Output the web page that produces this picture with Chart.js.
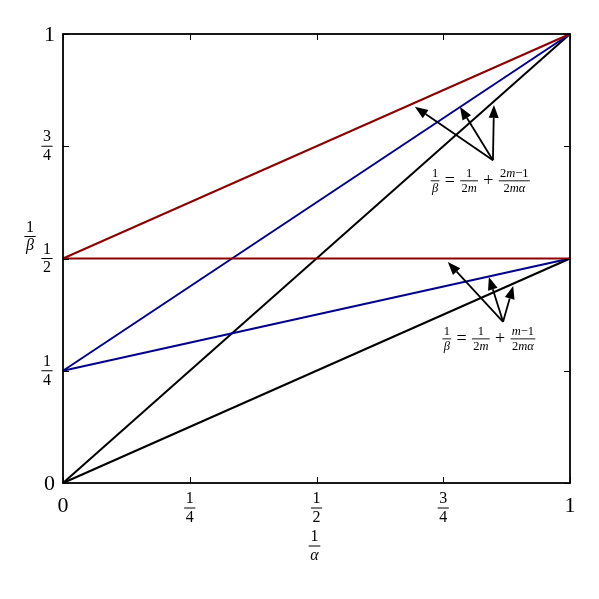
<!DOCTYPE html>
<html>
<head>
<meta charset="utf-8">
<script src="https://cdn.jsdelivr.net/npm/chart.js@4.4.1/dist/chart.umd.min.js"></script>
<style>
html,body{margin:0;padding:0;background:#fff;}
#wrap{width:599px;height:599px;}
</style>
</head>
<body>
<div id="wrap"><canvas id="c" width="599" height="599"></canvas></div>
<script>
// ---- data ----
const alphaInv = [0, 1];                 // x endpoints (1/alpha)
const blackDiag = [0, 1];                // 1/beta = 1/alpha
const blackLow = [0, 0.5];               // 1/beta = 1/(2alpha)
const redUpper = [0.5, 1];
const redFlat = [0.5, 0.5];
const blueUpper = [0.25, 1];
const blueLower = [0.25, 0.5];

const tickValues = [0, 0.25, 0.5, 0.75, 1];
const tickNum = ['0', '1', '1', '3', '1'];
const tickDen = [null, '4', '2', '4', null];

// annotations: arrow origin (text side) and arrow tips, in data units
const upperOrigin = [0.848, 0.719];
const upperTips = [[0.694, 0.838], [0.783, 0.838], [0.850, 0.842]];
const upperTextPos = [0.823, 0.673];
const upperText = [['1', 'β'], '=', ['1', '2m'], '+', ['2m−1', '2mα']];

const lowerOrigin = [0.868, 0.359];
const lowerTips = [[0.759, 0.492], [0.840, 0.459], [0.888, 0.439]];
const lowerTextPos = [0.840, 0.321];
const lowerText = [['1', 'β'], '=', ['1', '2m'], '+', ['m−1', '2mα']];

const FONT = '"Liberation Serif", "DejaVu Serif", serif';

function seg(xs, ys) { return xs.map((x, i) => ({ x: x, y: ys[i] })); }

function runs(str) {
  const out = [];
  for (const ch of str) {
    const it = /[a-zA-Zα-ω]/.test(ch);
    if (out.length && out[out.length - 1].it === it) out[out.length - 1].t += ch;
    else out.push({ t: ch, it: it });
  }
  return out;
}
function strWidth(ctx, str, size) {
  let w = 0;
  for (const r of runs(str)) {
    ctx.font = (r.it ? 'italic ' : '') + size + 'px ' + FONT;
    w += ctx.measureText(r.t).width;
  }
  return w;
}
function drawStr(ctx, str, x, baseline, size) {
  ctx.textAlign = 'left';
  ctx.textBaseline = 'alphabetic';
  let cx = x;
  for (const r of runs(str)) {
    ctx.font = (r.it ? 'italic ' : '') + size + 'px ' + FONT;
    ctx.fillText(r.t, cx, baseline);
    cx += ctx.measureText(r.t).width;
  }
}
function fracWidth(ctx, num, den, size) {
  return Math.max(strWidth(ctx, num, size), strWidth(ctx, den, size)) + size * 0.25;
}
function drawFrac(ctx, num, den, cx, barY, size, lw) {
  const wn = strWidth(ctx, num, size), wd = strWidth(ctx, den, size);
  const w = Math.max(wn, wd) + size * 0.2;
  ctx.fillStyle = '#000';
  drawStr(ctx, num, cx - wn / 2, barY - size * 0.3, size);
  drawStr(ctx, den, cx - wd / 2, barY + size * 0.86, size);
  ctx.fillRect(cx - w / 2, barY - lw / 2, w, lw);
}
function drawExpr(ctx, parts, cx, barY, fsize, osize) {
  const gap = 4;
  const widths = parts.map(p => Array.isArray(p) ? fracWidth(ctx, p[0], p[1], fsize) : strWidth(ctx, p, osize) + 2);
  const total = widths.reduce((a, b) => a + b, 0) + gap * (parts.length - 1);
  let x = cx - total / 2;
  parts.forEach((p, i) => {
    if (Array.isArray(p)) {
      drawFrac(ctx, p[0], p[1], x + widths[i] / 2, barY, fsize, 0.9);
    } else {
      ctx.fillStyle = '#000';
      drawStr(ctx, p, x + 1, barY + osize * 0.3, osize);
    }
    x += widths[i] + gap;
  });
}
function drawArrow(ctx, x0, y0, x1, y1) {
  const L = 13, H = 5;
  const dx = x1 - x0, dy = y1 - y0, d = Math.hypot(dx, dy);
  const ux = dx / d, uy = dy / d;
  const bx = x1 - ux * L, by = y1 - uy * L;
  ctx.strokeStyle = '#000';
  ctx.lineWidth = 1.8;
  ctx.beginPath(); ctx.moveTo(x0, y0); ctx.lineTo(bx, by); ctx.stroke();
  ctx.fillStyle = '#000';
  ctx.beginPath();
  ctx.moveTo(x1, y1);
  ctx.lineTo(bx - uy * H, by + ux * H);
  ctx.lineTo(bx + uy * H, by - ux * H);
  ctx.closePath(); ctx.fill();
}

const decor = {
  id: 'decor',
  afterDatasetsDraw(chart) {
    const ctx = chart.ctx, a = chart.chartArea;
    const xs = chart.scales.x, ys = chart.scales.y;
    ctx.save();
    // ticks (inward, all four sides)
    ctx.strokeStyle = '#000'; ctx.lineWidth = 1;
    tickValues.forEach(v => {
      const px = Math.round(xs.getPixelForValue(v)) + 0.5;
      const py = Math.round(ys.getPixelForValue(v)) + 0.5;
      ctx.beginPath();
      ctx.moveTo(px, a.bottom); ctx.lineTo(px, a.bottom - 6);
      ctx.moveTo(px, a.top); ctx.lineTo(px, a.top + 6);
      ctx.moveTo(a.left, py); ctx.lineTo(a.left + 6, py);
      ctx.moveTo(a.right, py); ctx.lineTo(a.right - 6, py);
      ctx.stroke();
    });
    // frame
    ctx.lineWidth = 1.8;
    ctx.strokeRect(a.left, a.top, a.right - a.left, a.bottom - a.top);

    // tick labels
    ctx.fillStyle = '#000';
    tickValues.forEach((v, i) => {
      const px = xs.getPixelForValue(v), py = ys.getPixelForValue(v);
      if (tickDen[i] === null) {
        ctx.font = '22px ' + FONT;
        ctx.textAlign = 'center'; ctx.textBaseline = 'alphabetic';
        ctx.fillText(tickNum[i], px, a.bottom + 29);
        ctx.textAlign = 'right';
        ctx.fillText(tickNum[i], a.left - 8, py + 7);
      } else {
        drawFrac(ctx, tickNum[i], tickDen[i], px, a.bottom + 25, 16, 1);
        drawFrac(ctx, tickNum[i], tickDen[i], a.left - 16, py, 16, 1);
      }
    });
    // axis labels
    drawFrac(ctx, '1', 'α', xs.getPixelForValue(0.5) - 2, a.bottom + 63, 16, 1);
    drawFrac(ctx, '1', 'β', a.left - 33, ys.getPixelForValue(0.5) - 22, 16, 1);

    // annotations
    [[upperOrigin, upperTips, upperTextPos, upperText], [lowerOrigin, lowerTips, lowerTextPos, lowerText]].forEach(([o, tips, tp, txt]) => {
      const ox = xs.getPixelForValue(o[0]), oy = ys.getPixelForValue(o[1]);
      tips.forEach(t => drawArrow(ctx, ox, oy, xs.getPixelForValue(t[0]), ys.getPixelForValue(t[1])));
      drawExpr(ctx, txt, xs.getPixelForValue(tp[0]), ys.getPixelForValue(tp[1]), 12.5, 18);
    });
    ctx.restore();
  }
};

const mk = (ys, color) => ({
  data: seg(alphaInv, ys), showLine: true, borderColor: color, backgroundColor: color,
  borderWidth: 2, pointRadius: 0, fill: false, tension: 0, clip: false
});

new Chart(document.getElementById('c'), {
  type: 'scatter',
  data: {
    datasets: [
      mk(redUpper, '#8b0000'),
      mk(redFlat, '#8b0000'),
      mk(blueUpper, '#00008b'),
      mk(blueLower, '#00008b'),
      mk(blackDiag, '#000000'),
      mk(blackLow, '#000000')
    ]
  },
  options: {
    responsive: false,
    animation: false,
    devicePixelRatio: 1,
    layout: { padding: { left: 63, right: 29, top: 34, bottom: 116 } },
    plugins: { legend: { display: false }, tooltip: { enabled: false } },
    scales: {
      x: { type: 'linear', min: 0, max: 1, display: false },
      y: { type: 'linear', min: 0, max: 1, display: false }
    }
  },
  plugins: [decor]
});
</script>
</body>
</html>
